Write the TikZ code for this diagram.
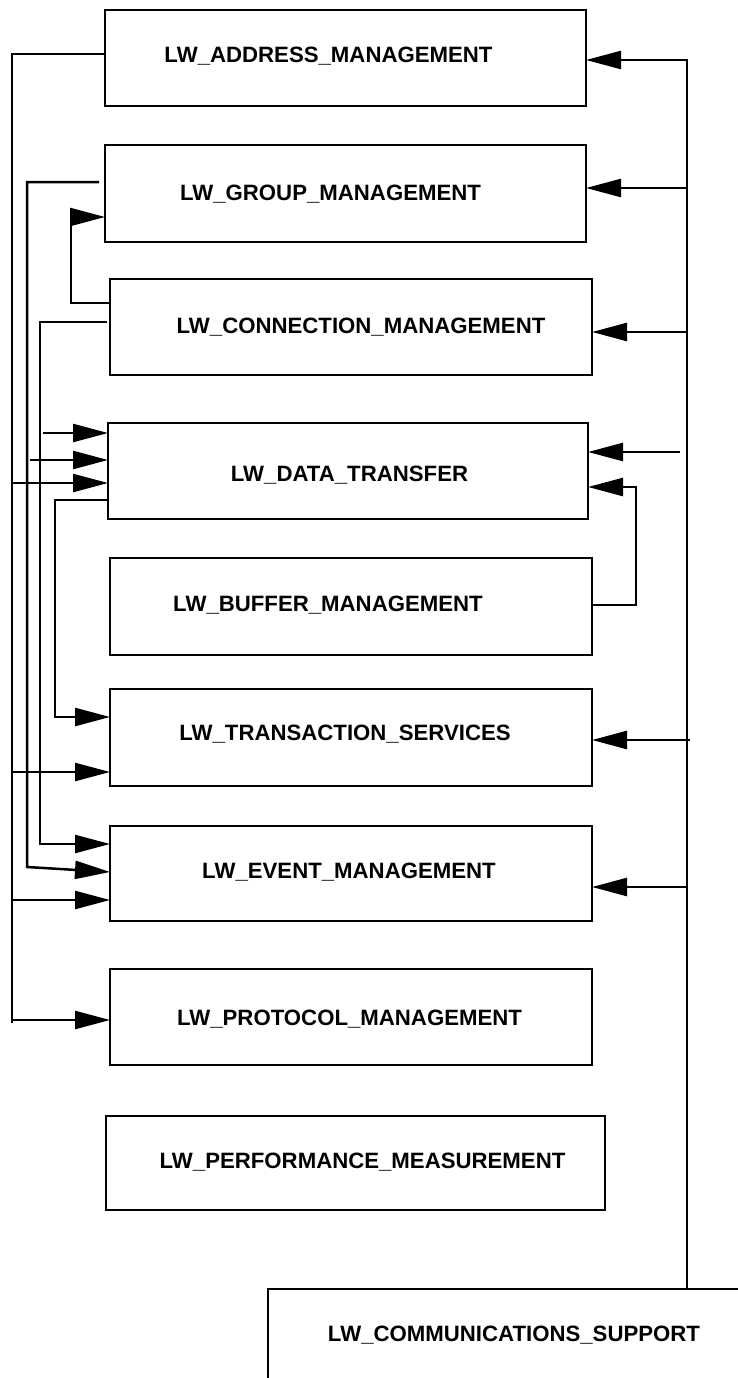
\documentclass[tikz,border=0pt]{standalone}
\usepackage{fontspec}
\setmainfont{Liberation Sans}
\usetikzlibrary{arrows.meta}
\begin{document}
\begin{tikzpicture}[x=1pt,y=-1pt,
  box/.style={draw, line width=2.5pt, rectangle, inner sep=0pt, outer sep=0pt},
  lbl/.style={font=\bfseries\fontsize{22.2}{26}\selectfont, anchor=base, inner sep=0pt},
  wire/.style={line width=2.5pt},
  arr/.style={wire, -{Triangle[length=35pt,width=18pt]}}]
\clip (0,0) rectangle (738,1378);
\fill[white] (0,0) rectangle (738,1378);
% boxes
\node[box, minimum width=481pt, minimum height=96pt] (addr) at (345.5,58) {};
\node[box, minimum width=481pt, minimum height=97pt] (group) at (345.5,193.5) {};
\node[box, minimum width=482pt, minimum height=96pt] (conn) at (351,327) {};
\node[box, minimum width=480pt, minimum height=96pt] (data) at (348,471) {};
\node[box, minimum width=482pt, minimum height=97pt] (buffer) at (351,606.5) {};
\node[box, minimum width=482pt, minimum height=97pt] (trans) at (351,737.5) {};
\node[box, minimum width=482pt, minimum height=95pt] (event) at (351,873.5) {};
\node[box, minimum width=482pt, minimum height=96pt] (proto) at (351,1017) {};
\node[box, minimum width=499pt, minimum height=94pt] (perf) at (355.5,1163) {};
\node[box, minimum width=532pt, minimum height=171pt] (comm) at (534,1374.5) {};
% labels
\node[lbl] (addrT) at (328.5,63) {LW\_ADDRESS\_MANAGEMENT};
\node[lbl] (groupT) at (330.5,200) {LW\_GROUP\_MANAGEMENT};
\node[lbl] (connT) at (361,333) {LW\_CONNECTION\_MANAGEMENT};
\node[lbl] (dataT) at (349.5,481) {LW\_DATA\_TRANSFER};
\node[lbl] (bufferT) at (328,611) {LW\_BUFFER\_MANAGEMENT};
\node[lbl] (transT) at (345,740) {LW\_TRANSACTION\_SERVICES};
\node[lbl] (eventT) at (349,878) {LW\_EVENT\_MANAGEMENT};
\node[lbl] (protoT) at (349.5,1025) {LW\_PROTOCOL\_MANAGEMENT};
\node[lbl] (perfT) at (362.5,1168) {LW\_PERFORMANCE\_MEASUREMENT};
\node[lbl] (commT) at (514,1341) {LW\_COMMUNICATIONS\_SUPPORT};
% right-hand bus
\coordinate (busTop) at (687,60);
\draw[arr] (comm.north -| busTop) -- (busTop) -- (busTop -| addr.east);
\coordinate (bG) at (687,188);
\draw[arr] (bG) -- (bG -| group.east);
\coordinate (bC) at (687,332);
\draw[arr] (bC) -- (bC -| conn.east);
\coordinate (bD) at (680,452);
\draw[arr] (bD) -- (bD -| data.east);
\coordinate (bT) at (690,740);
\draw[arr] (bT) -- (bT -| trans.east);
\coordinate (bE) at (687,887);
\draw[arr] (bE) -- (bE -| event.east);
% buffer -> data transfer
\coordinate (bufR) at (636,605);
\coordinate (bufT) at (636,487);
\draw[arr] (buffer.east |- bufR) -- (bufR) -- (bufT) -- (bufT -| data.east);
% address management line
\coordinate (aTop) at (12,54);
\coordinate (aBot) at (12,1023);
\draw[wire] (addr.west |- aTop) -- (aTop) -- (aBot);
\coordinate (a1) at (12,483);
\draw[arr] (a1) -- (a1 -| data.west);
\coordinate (a2) at (12,772);
\draw[arr] (a2) -- (a2 -| trans.west);
\coordinate (a3) at (12,900);
\draw[arr] (a3) -- (a3 -| event.west);
\coordinate (a4) at (12,1020);
\draw[arr] (a4) -- (a4 -| proto.west);
% group management line
\coordinate (gS) at (99,182);
\coordinate (gT) at (27,182);
\coordinate (gB) at (27,867);
\coordinate (gE) at (110,872);
\draw[arr] (gS) -- (gT) -- (gB) -- (gE -| event.west);
\coordinate (g1) at (30,460);
\draw[arr] (g1) -- (g1 -| data.west);
% connection management line
\coordinate (cS) at (107,322);
\coordinate (cT) at (40,322);
\coordinate (cB) at (40,844);
\draw[arr] (cS) -- (cT) -- (cB) -- (cB -| event.west);
\coordinate (c1) at (43,433);
\draw[arr] (c1) -- (c1 -| data.west);
% connection -> group
\coordinate (cg1) at (71,303);
\coordinate (cg2) at (71,217);
\draw[arr] (conn.west |- cg1) -- (cg1) -- (cg2) -- (cg2 -| group.west);
% data transfer -> transaction
\coordinate (dt1) at (55,500);
\coordinate (dt2) at (55,717);
\draw[arr] (data.west |- dt1) -- (dt1) -- (dt2) -- (dt2 -| trans.west);
\end{tikzpicture}
\end{document}
